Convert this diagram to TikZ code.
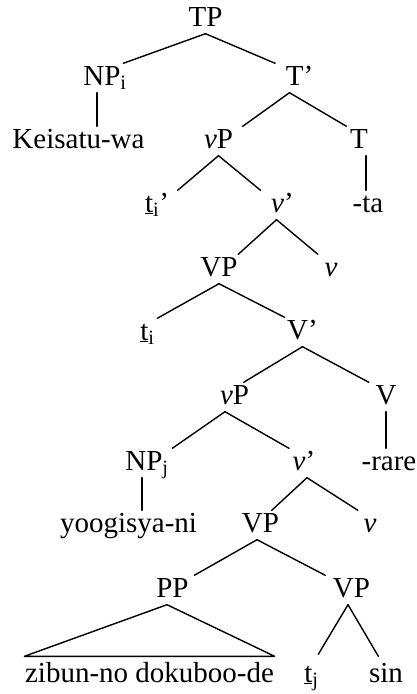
\documentclass[tikz,border=0pt]{standalone}
\usepackage{fontspec}
\setmainfont{Liberation Serif}

\tikzset{lbl/.style={anchor=base,inner sep=0pt,text height=21pt,text depth=7pt}}

\begin{document}
\begin{tikzpicture}[line cap=round,line join=round,x=1pt,y=-1pt,
		line width=1.4pt,font=\fontsize{29}{34}\selectfont]
		\useasboundingbox (0,0) rectangle (417,694);
		% etichette
		\node[lbl] (tp) at (205.5,26) {TP};
		\node[lbl] (npi) at (105,85) {NP\textsubscript{i}};
		\node[lbl] (tbar) at (299.5,85) {T’};
		\node[lbl] (kw) at (78.5,148) {Keisatu-wa};
		\node[lbl] (vp1) at (218.5,148) {\textit{v}P};
		\node[lbl] (t1) at (359,148) {T};
		\node[lbl] (ti1) at (157,212) {\underline{t}\textsubscript{i}’};
		\node[lbl] (vbar1) at (282.5,212) {\textit{v}’};
		\node[lbl] (ta) at (368,212) {-ta};
		\node[lbl] (vp2) at (219,276) {VP};
		\node[lbl] (v1) at (331,276) {\textit{v}};
		\node[lbl] (ti2) at (147.5,340) {\underline{t}\textsubscript{i}};
		\node[lbl] (vbar2) at (302.5,339) {V’};
		\node[lbl] (vp3) at (234.5,404) {\textit{v}P};
		\node[lbl] (vv) at (386,404) {V};
		\node[lbl] (npj) at (147,470) {NP\textsubscript{j}};
		\node[lbl] (vbar3) at (304,470) {\textit{v}’};
		\node[lbl] (rare) at (389,470) {-rare};
		\node[lbl] (ys) at (128.5,532) {yoogisya-ni};
		\node[lbl] (vp4) at (260.5,532) {VP};
		\node[lbl] (v2) at (370,532) {\textit{v}};
		\node[lbl] (pp) at (172.5,597) {PP};
		\node[lbl] (vp5) at (351.5,597) {VP};
		\node[lbl] (zd) at (149.5,682) {zibun-no dokuboo-de};
		\node[lbl] (tj) at (311.5,682) {\underline{t}\textsubscript{j}};
		\node[lbl] (sin) at (386,682) {sin};
		% rami
		\draw (tp.south) -- ([xshift=-4pt]npi.north east);
		\draw (tp.south) -- ([xshift=-10pt]tbar.north west);
		\draw ([xshift=-8pt]npi.south) -- ([xshift=-8pt]npi.south |- kw.north);
		\draw ([xshift=-10pt]tbar.south) -- ([xshift=9pt]vp1.north east);
		\draw ([xshift=-10pt]tbar.south) -- ([xshift=-3pt]t1.north west);
		\draw (vp1.south) -- ([xshift=8pt]ti1.north east);
		\draw (vp1.south) -- ([xshift=-10pt]vbar1.north west);
		\draw ([xshift=7pt]t1.south) -- ([xshift=7pt]t1.south |- ta.north);
		\draw ([xshift=-6pt]vbar1.south) -- (vp2.north east);
		\draw ([xshift=-6pt]vbar1.south) -- ([xshift=-6pt]v1.north west);
		\draw (vp2.south) -- ([xshift=2pt]ti2.north east);
		\draw (vp2.south) -- ([xshift=-2pt]vbar2.north west);
		\draw (vbar2.south) -- ([xshift=-6pt]vp3.north east);
		\draw (vbar2.south) -- ([xshift=-6pt]vv.north west);
		\draw ([xshift=-9.5pt]vp3.south) -- ([xshift=3pt]npj.north east);
		\draw ([xshift=-9.5pt]vp3.south) -- ([xshift=-3pt]vbar3.north west);
		\draw (vv.south) -- (vv.south |- rare.north);
		\draw ([xshift=-5pt]npj.south) -- ([xshift=-5pt]npj.south |- ys.north);
		\draw ([xshift=3pt]vbar3.south) -- ([xshift=-8pt]vp4.north east);
		\draw ([xshift=3pt]vbar3.south) -- ([xshift=-5pt]v2.north west);
		\draw ([xshift=-3.5pt]vp4.south) -- ([xshift=5pt]pp.north east);
		\draw ([xshift=-3.5pt]vp4.south) -- ([xshift=-7pt]vp5.north west);
		\draw ([xshift=-5.5pt]pp.south) -- ([yshift=4pt]zd.north west)
		-- ([yshift=4pt]zd.north east) -- cycle; %triangolo PP
		\draw ([xshift=-3.5pt]vp5.south) -- ([xshift=-1pt,yshift=6pt]tj.north east);
		\draw ([xshift=-3.5pt]vp5.south) -- ([xshift=10pt,yshift=4pt]sin.north west);
\end{tikzpicture}
\end{document}
